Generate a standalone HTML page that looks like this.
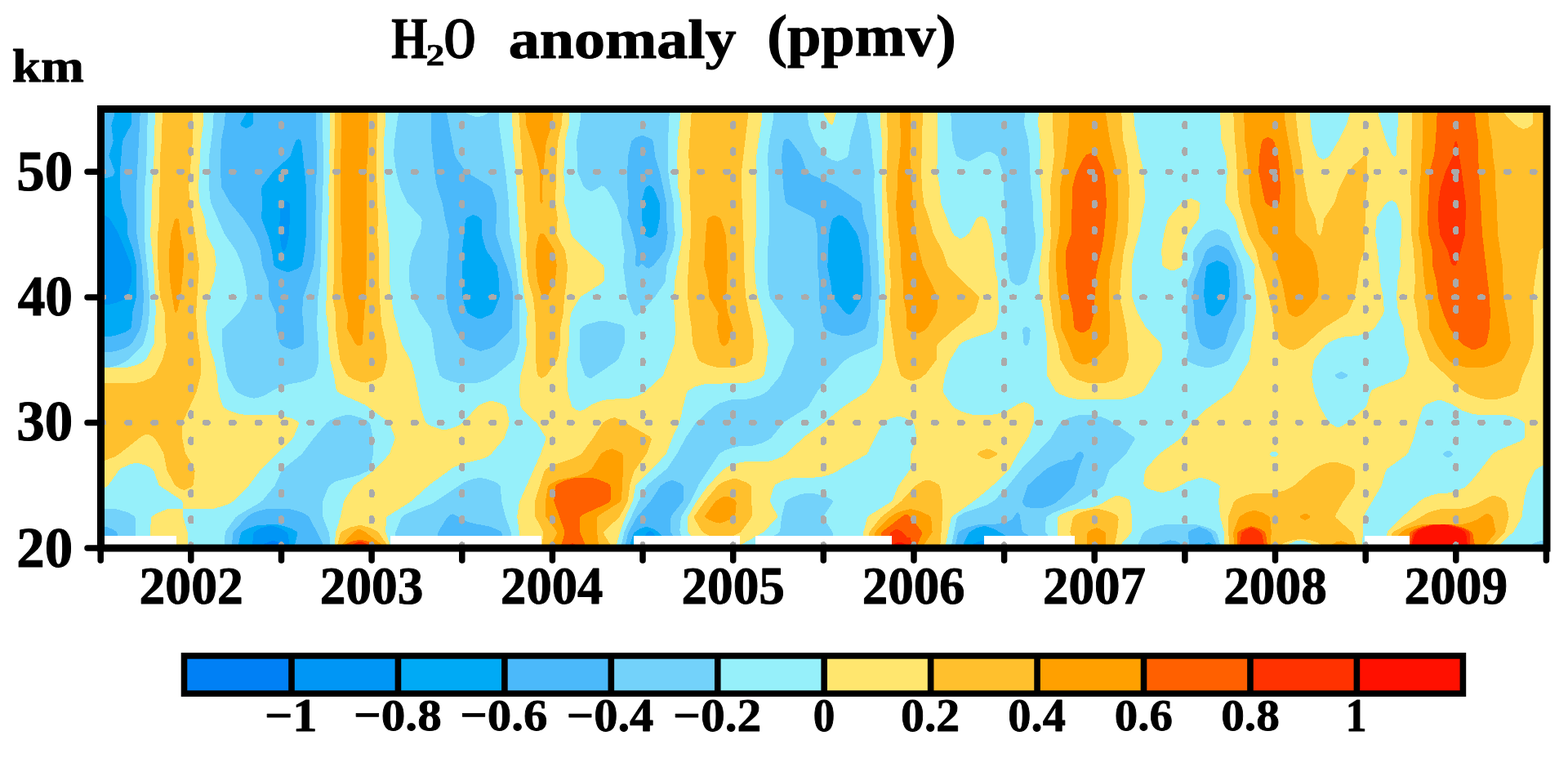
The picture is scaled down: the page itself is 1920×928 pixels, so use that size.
<!DOCTYPE html>
<html><head><meta charset="utf-8"><title>H2O anomaly (ppmv)</title>
<style>
html,body{margin:0;padding:0;background:#fff;overflow:hidden}
svg{display:block}
text{font-family:'Liberation Serif', serif;font-weight:bold;fill:#000}
.t{font-size:100px;stroke:#000;stroke-width:1.5px;stroke-linejoin:round}
</style></head><body>
<svg width="1920" height="928" viewBox="0 0 1920 928">
<rect width="1920" height="928" fill="#fff"/>
<clipPath id="pc"><rect x="128" y="138" width="1762" height="529"/></clipPath>
<g clip-path="url(#pc)" shape-rendering="crispEdges">
<rect x="128" y="138" width="1762" height="529" fill="#0080F5"/>
<path fill="#0096F5" fill-rule="evenodd" d="M1893.5,671.0 825.5,671.0 797.9,670.5 797.9,666.5 796.5,665.8 794.1,666.5 794.1,670.5 773.5,670.9 373.5,671.0 347.1,670.5 347.1,666.5 345.8,665.5 335.5,661.9 330.5,662.8 324.2,665.5 322.9,666.5 322.9,670.5 124.5,671.0 124.0,134.5 1893.5,134.0 1893.5,671.0Z"/>
<path fill="#00AAF5" fill-rule="evenodd" d="M1893.5,671.0 1238.5,670.9 1222.1,670.5 1222.1,666.5 1220.8,665.5 1214.5,662.8 1206.5,661.0 1198.5,662.8 1192.2,665.5 1190.9,666.5 1190.9,670.5 1185.5,670.7 817.5,670.8 806.5,670.5 806.2,665.5 800.7,653.5 798.5,651.0 795.5,650.0 792.8,651.5 790.1,655.5 784.9,665.5 784.6,670.5 367.5,670.8 354.8,670.5 354.1,662.5 352.5,654.5 351.1,651.5 343.5,646.9 331.5,643.3 319.5,646.5 311.0,651.5 309.9,654.5 309.1,670.5 124.5,671.0 124.0,389.5 124.5,373.5 132.5,373.1 142.5,370.6 150.5,367.3 155.6,363.5 160.7,345.5 161.0,329.5 160.2,323.5 144.5,284.5 134.2,267.5 129.5,264.5 124.5,264.2 124.0,134.5 1893.5,134.0 1893.5,671.0ZM348.8,306.5 350.5,303.5 353.8,287.5 355.0,266.5 354.6,249.5 353.1,247.5 349.5,245.7 344.9,247.5 343.1,250.5 342.1,285.5 344.9,304.5 346.5,306.7 348.8,306.5Z"/>
<path fill="#4BB9FA" fill-rule="evenodd" d="M131.5,217.6 124.5,218.0 124.5,134.2 140.6,134.5 140.4,139.5 136.3,153.5 138.7,172.5 133.4,190.5 140.6,210.5 139.5,213.5 137.5,215.5 131.5,217.6ZM1893.5,671.0 1498.5,670.8 1485.1,670.5 1485.1,666.5 1480.5,664.2 1477.5,664.8 1474.9,666.5 1474.9,670.5 1470.5,670.6 1250.1,670.5 1250.1,666.5 1247.3,664.5 1217.5,647.8 1205.5,643.8 1195.5,646.5 1186.8,651.5 1179.8,665.5 1179.5,670.5 1176.5,670.6 820.0,670.5 819.4,665.5 807.5,652.5 800.5,647.8 791.5,644.8 782.5,647.8 776.1,652.5 771.6,665.5 771.4,670.5 373.5,670.8 361.3,670.5 361.4,665.5 364.4,653.5 363.8,651.5 362.5,650.2 356.5,646.9 348.5,644.2 340.5,642.4 333.5,642.2 316.5,642.9 305.5,646.1 297.5,650.2 295.2,652.5 294.5,654.5 292.3,665.5 292.2,670.5 124.5,671.0 124.0,427.5 124.5,411.9 135.5,411.8 143.5,410.2 153.9,406.5 160.0,402.5 161.1,399.5 162.2,382.5 167.0,362.5 166.8,324.5 163.0,306.5 156.3,287.5 155.9,268.5 149.1,248.5 147.0,228.5 147.1,208.5 149.9,173.5 150.9,170.5 160.7,152.5 161.0,134.5 301.4,134.5 301.1,139.5 294.1,151.5 295.8,154.5 301.5,157.1 307.3,154.5 309.8,151.5 310.0,134.5 326.5,134.1 1893.5,134.0 1893.5,671.0ZM355.5,332.5 365.3,328.5 369.9,324.5 372.9,306.5 374.9,287.5 374.9,228.5 369.2,174.5 367.8,171.5 365.5,170.4 363.1,171.5 361.6,173.5 355.3,191.5 334.1,210.5 321.5,227.5 320.1,231.5 320.9,248.5 320.2,267.5 328.9,290.5 332.9,306.5 335.2,324.5 338.0,327.5 344.5,330.8 351.5,333.0 355.5,332.5ZM798.5,290.5 802.9,287.5 804.5,284.5 807.9,267.5 808.0,250.5 807.1,246.5 800.2,230.5 797.5,227.9 794.5,227.0 791.6,228.5 790.0,230.5 785.4,247.5 785.9,266.5 788.4,286.5 790.2,288.5 794.5,290.9 798.5,290.5ZM591.3,389.5 601.8,384.5 603.9,382.5 605.5,379.5 611.8,363.5 610.9,343.5 608.7,325.5 596.0,307.5 594.3,303.5 590.2,287.5 589.5,268.5 585.5,265.0 579.5,262.9 572.1,266.5 570.4,268.5 569.8,270.5 566.1,306.5 566.1,363.5 571.2,380.5 573.0,383.5 577.5,386.5 584.5,389.5 587.5,390.2 591.3,389.5ZM1041.8,384.5 1045.6,380.5 1054.3,366.5 1056.0,362.5 1057.0,327.5 1055.2,308.5 1050.6,289.5 1048.9,285.5 1037.2,268.5 1031.6,264.5 1027.5,263.4 1020.5,267.1 1018.3,271.5 1014.9,288.5 1013.3,326.5 1016.9,344.5 1019.3,363.5 1034.7,382.5 1038.5,385.1 1041.8,384.5ZM1488.5,386.5 1492.5,384.0 1494.8,381.5 1504.5,364.5 1505.9,346.5 1504.3,328.5 1503.3,325.5 1497.5,321.5 1490.5,319.1 1481.6,322.5 1477.1,326.5 1475.0,344.5 1474.1,361.5 1477.3,382.5 1479.2,384.5 1483.5,387.0 1485.5,387.4 1488.5,386.5Z"/>
<path fill="#73D2FA" fill-rule="evenodd" d="M1893.5,671.0 1489.5,670.5 1489.2,665.5 1483.1,652.5 1477.5,648.3 1468.5,645.1 1459.2,648.5 1456.1,650.5 1454.6,652.5 1456.8,670.5 1445.3,670.5 1445.3,666.5 1443.5,664.1 1439.5,662.3 1432.5,661.3 1420.2,665.5 1418.9,666.5 1418.9,670.5 1277.1,670.5 1277.1,666.5 1276.0,665.5 1252.7,651.5 1251.5,648.5 1248.6,630.5 1246.5,627.3 1244.5,628.4 1239.8,635.5 1234.5,638.4 1217.5,642.0 1196.5,642.5 1185.5,645.4 1177.5,648.9 1173.9,651.5 1172.8,653.5 1170.3,665.5 1170.2,670.5 831.2,670.5 830.8,665.5 821.3,651.5 821.1,634.5 822.8,630.5 836.5,613.5 836.9,596.5 836.4,594.5 833.5,591.9 823.5,587.7 815.5,590.3 809.1,594.5 796.8,613.5 779.6,633.5 769.0,652.5 766.3,665.5 766.2,670.5 615.0,670.5 614.9,653.5 614.0,651.5 611.5,649.5 598.5,644.2 582.6,641.5 572.5,638.7 554.5,629.2 551.1,630.5 547.6,633.5 536.9,650.5 536.0,654.5 536.0,670.5 395.4,670.5 395.4,666.5 394.7,664.5 378.4,632.5 372.5,628.6 364.5,625.6 355.5,623.3 347.5,623.0 324.5,623.5 312.5,626.9 303.6,631.5 285.6,651.5 284.8,654.5 284.1,670.5 144.9,670.5 144.1,654.5 143.0,651.5 139.5,648.9 133.5,646.1 128.5,644.6 124.5,644.6 124.2,435.5 124.5,431.0 135.5,431.0 141.5,429.9 152.1,426.5 159.4,422.5 162.1,419.5 170.7,404.5 172.6,398.5 175.0,382.5 175.9,361.5 173.9,325.5 167.0,283.5 167.1,228.5 171.9,134.5 275.9,134.5 275.1,151.5 271.1,171.5 270.1,188.5 270.0,210.5 271.3,229.5 282.0,248.5 298.4,268.5 312.0,289.5 318.9,306.5 321.2,325.5 328.7,344.5 329.2,363.5 337.8,383.5 338.2,402.5 342.6,419.5 344.5,422.3 347.5,424.4 357.5,428.1 367.3,424.5 370.3,422.5 371.7,420.5 371.9,402.5 370.1,382.5 371.1,364.5 383.6,326.5 385.7,309.5 386.0,268.5 386.9,248.5 386.1,229.5 388.0,208.5 387.0,134.5 528.0,134.5 528.0,171.5 532.2,211.5 534.9,228.5 541.8,248.5 545.0,267.5 549.8,287.5 546.0,345.5 546.1,363.5 548.8,381.5 556.3,402.5 567.6,420.5 571.0,423.5 575.5,425.9 588.5,429.8 598.5,427.1 607.5,422.5 626.3,402.5 627.0,399.5 627.9,364.5 627.0,345.5 607.3,287.5 607.9,249.5 602.6,231.5 599.0,227.5 570.6,210.5 558.0,192.5 556.6,188.5 547.5,140.5 547.2,134.5 1893.5,134.0 1893.5,671.0ZM794.5,328.5 800.6,324.5 814.5,306.5 817.8,285.5 816.0,267.5 815.7,247.5 808.2,211.5 802.2,191.5 800.0,173.5 798.9,171.5 796.4,169.5 786.5,165.6 778.4,168.5 773.3,172.5 769.4,189.5 768.1,209.5 768.0,227.5 769.9,248.5 768.2,267.5 775.0,287.5 778.6,304.5 778.4,324.5 779.5,326.0 781.5,326.5 785.5,323.4 786.5,323.6 791.1,327.5 794.5,328.5ZM1036.6,411.5 1050.5,407.5 1059.2,402.5 1061.2,398.5 1066.0,381.5 1067.0,344.5 1064.1,306.5 1063.9,288.5 1057.1,267.5 1055.1,250.5 1054.1,248.5 1051.8,246.5 1023.5,227.1 995.0,214.5 989.9,211.5 987.5,208.5 980.8,189.5 968.1,172.5 965.5,170.3 962.5,169.9 960.1,171.5 959.0,173.5 957.1,191.5 959.0,228.5 961.7,246.5 962.6,248.5 965.5,251.0 993.5,265.0 997.0,267.5 998.1,269.5 1000.9,287.5 1001.0,324.5 1002.9,344.5 1003.2,365.5 1005.1,383.5 1008.7,400.5 1011.5,403.9 1018.5,407.5 1030.5,411.1 1036.6,411.5ZM1488.5,427.5 1496.9,423.5 1500.4,419.5 1505.0,402.5 1513.6,383.5 1515.0,363.5 1514.9,343.5 1513.5,324.5 1504.7,306.5 1498.9,302.5 1491.5,299.8 1487.8,300.5 1481.5,303.4 1478.4,305.5 1476.5,307.9 1462.3,344.5 1461.1,362.5 1462.0,382.5 1463.8,400.5 1469.5,419.5 1471.7,422.5 1478.9,426.5 1484.5,428.2 1488.5,427.5ZM1277.8,621.5 1287.0,618.5 1294.4,614.5 1315.3,594.5 1321.9,571.5 1327.0,558.5 1327.2,556.5 1325.5,554.3 1322.5,553.0 1320.7,553.5 1318.0,555.5 1315.1,560.5 1312.5,562.5 1299.5,565.0 1283.5,572.7 1277.5,577.2 1258.3,594.5 1252.4,612.5 1252.5,615.5 1253.7,618.5 1256.5,620.6 1261.5,621.7 1272.5,622.3 1277.8,621.5Z"/>
<path fill="#96F0FA" fill-rule="evenodd" d="M760.5,670.5 626.0,670.5 625.7,651.5 619.0,632.5 614.6,615.5 612.5,594.7 609.5,591.9 603.5,588.9 595.5,586.3 587.5,584.8 577.5,586.9 568.0,590.5 529.2,616.5 500.5,627.7 493.7,631.5 491.3,634.5 484.3,651.5 484.0,670.5 404.9,670.5 403.0,652.5 395.8,634.5 395.0,630.5 395.2,613.5 402.1,596.5 405.6,592.5 412.5,588.9 439.5,581.7 450.7,576.5 453.5,572.5 456.8,556.5 456.9,536.5 453.6,520.5 452.4,517.5 448.5,514.5 441.8,511.5 432.5,508.8 426.5,507.9 420.5,508.8 411.2,511.5 404.5,514.5 400.2,517.5 384.2,536.5 370.0,555.5 345.1,575.5 336.6,594.5 321.7,612.5 317.5,615.8 292.1,630.5 288.5,633.5 275.6,651.5 275.0,670.5 166.0,670.5 166.0,635.5 165.1,632.5 157.5,627.7 145.5,624.0 139.5,623.0 124.5,623.0 124.0,458.5 124.5,450.2 133.5,449.9 144.5,447.0 153.5,443.0 159.1,438.5 175.5,421.5 180.9,402.5 182.9,383.5 183.0,364.5 182.0,344.5 178.0,306.5 177.1,288.5 177.0,233.5 179.0,209.5 181.0,134.5 261.9,134.5 260.7,155.5 256.0,192.5 256.0,228.5 257.9,247.5 274.9,286.5 288.9,306.5 296.2,323.5 300.9,344.5 302.7,361.5 302.1,365.5 293.1,382.5 272.5,402.5 272.3,423.5 278.1,459.5 287.6,476.5 290.5,480.0 295.5,483.0 302.5,485.8 310.5,487.7 316.5,486.7 324.5,483.9 337.5,476.1 344.5,473.0 354.5,470.2 369.4,467.5 381.5,462.8 384.7,460.5 386.2,458.5 390.5,442.5 390.1,423.5 388.1,401.5 389.1,364.5 392.0,343.5 396.0,210.5 395.0,134.5 487.9,134.5 487.7,140.5 483.1,171.5 482.1,188.5 485.1,210.5 490.1,229.5 498.5,247.5 514.7,265.5 516.7,269.5 514.9,286.5 505.1,306.5 501.1,325.5 501.1,344.5 504.8,362.5 513.8,382.5 527.8,402.5 530.8,420.5 533.1,440.5 538.4,459.5 543.5,463.3 551.5,466.6 561.5,469.1 569.5,469.4 580.5,469.4 587.5,468.0 597.5,464.7 605.1,460.5 629.6,440.5 635.8,421.5 635.8,362.5 631.5,322.5 629.0,306.5 624.1,286.5 623.0,248.5 619.0,210.5 611.2,153.5 611.0,134.5 711.9,134.5 710.2,151.5 706.1,172.5 707.3,210.5 714.2,227.5 716.6,230.5 721.5,233.4 724.5,234.0 729.5,231.9 736.5,227.4 739.5,227.9 743.2,231.5 754.6,250.5 760.9,268.5 761.2,287.5 764.8,306.5 763.2,326.5 768.1,363.5 775.3,383.5 777.5,386.1 779.5,386.7 782.5,384.5 801.3,364.5 814.3,345.5 815.1,342.5 816.2,325.5 823.4,307.5 824.6,302.5 826.8,286.5 825.0,267.5 824.9,249.5 820.9,228.5 818.0,208.5 818.0,171.5 819.9,134.5 947.9,134.5 946.4,149.5 942.1,171.5 940.1,190.5 942.0,249.5 942.0,281.5 940.0,307.5 940.1,345.5 942.7,364.5 955.6,382.5 971.6,402.5 972.0,418.5 971.4,422.5 963.1,440.5 955.9,459.5 939.2,479.5 931.5,483.9 920.5,487.4 914.5,488.6 896.5,489.0 881.2,493.5 872.8,498.5 852.2,517.5 839.8,535.5 829.1,555.5 817.0,573.5 794.2,592.5 790.8,596.5 781.5,614.5 764.7,650.5 761.5,664.5 761.2,670.5 760.5,670.5ZM587.5,142.6 582.5,143.1 573.5,140.1 571.0,138.5 571.0,134.5 596.9,134.5 596.9,138.5 596.0,139.5 592.5,141.4 587.5,142.6ZM1025.5,197.6 1018.5,195.5 1011.8,191.5 997.6,172.5 990.1,152.5 988.1,134.5 1049.8,134.5 1049.7,139.5 1047.2,151.5 1041.0,172.5 1039.0,189.5 1037.9,191.5 1035.4,193.5 1025.5,197.6ZM1875.5,670.5 1493.7,670.5 1493.6,665.5 1490.7,654.5 1488.0,650.5 1482.5,647.4 1474.5,644.5 1466.3,642.5 1459.5,642.2 1425.5,642.3 1416.5,644.2 1408.5,646.9 1402.0,650.5 1399.3,653.5 1393.8,665.5 1393.5,670.5 1293.9,670.5 1293.9,666.5 1293.2,665.5 1279.6,651.5 1280.6,636.5 1281.8,632.5 1289.5,627.7 1318.2,616.5 1350.0,595.5 1352.4,592.5 1358.2,575.5 1379.0,555.5 1389.9,537.5 1387.9,534.5 1358.5,514.5 1348.5,510.4 1336.5,507.9 1323.5,507.9 1318.5,508.8 1307.5,512.1 1299.5,516.5 1296.8,519.5 1286.0,537.5 1251.4,573.5 1234.7,594.5 1217.5,612.8 1208.5,618.3 1182.5,626.9 1173.8,631.5 1172.1,633.5 1171.2,636.5 1165.5,664.5 1165.2,670.5 1020.0,670.5 1019.5,651.5 1009.0,635.5 1007.8,632.5 1019.4,615.5 1019.8,613.5 1017.5,611.1 1011.5,608.1 995.5,603.9 986.5,604.0 979.5,605.5 970.5,608.5 963.5,612.5 961.5,615.5 957.3,631.5 955.3,648.5 954.3,651.5 951.7,653.5 928.2,665.5 926.9,666.5 926.9,670.5 841.3,670.5 840.9,665.5 833.2,653.5 832.3,649.5 833.8,634.5 834.8,631.5 845.9,613.5 855.5,593.5 880.8,555.5 887.3,551.5 896.5,548.2 904.5,546.4 922.5,545.5 933.5,542.3 941.5,538.3 944.8,535.5 960.4,516.5 989.3,498.5 1001.5,478.5 1013.9,462.5 1034.5,441.3 1041.5,436.7 1068.5,424.9 1072.3,422.5 1073.8,420.5 1075.9,402.5 1075.1,383.5 1076.9,363.5 1075.9,323.5 1073.1,287.5 1072.9,267.5 1070.1,231.5 1070.8,209.5 1068.1,191.5 1066.8,170.5 1061.3,139.5 1061.2,134.5 1164.1,134.5 1166.1,171.5 1170.4,188.5 1172.0,191.5 1178.5,195.5 1185.5,197.6 1192.5,195.1 1203.5,188.2 1209.5,185.6 1211.5,185.6 1215.5,187.1 1221.5,191.3 1228.0,211.5 1230.9,266.5 1230.2,288.5 1233.9,324.5 1236.4,340.5 1237.0,343.5 1238.5,345.5 1243.5,348.6 1247.5,349.6 1253.5,347.0 1257.1,343.5 1268.0,304.5 1267.9,287.5 1265.1,267.5 1264.9,248.5 1261.9,227.5 1260.8,189.5 1258.8,171.5 1254.2,152.5 1254.9,134.5 1893.5,134.0 1893.9,654.5 1893.5,661.3 1887.5,661.7 1878.5,664.8 1875.9,666.5 1875.5,670.5ZM1483.6,449.5 1498.7,444.5 1503.6,441.5 1506.0,438.5 1523.6,402.5 1525.9,366.5 1523.9,344.5 1521.3,327.5 1519.8,322.5 1504.8,287.5 1499.3,283.5 1490.5,280.3 1483.5,282.2 1476.0,286.5 1461.8,305.5 1461.2,308.5 1461.7,325.5 1454.2,344.5 1452.0,364.5 1452.1,401.5 1455.8,421.5 1452.7,437.5 1452.8,440.5 1457.5,444.1 1467.5,448.0 1476.5,450.1 1483.6,449.5ZM724.9,462.5 754.3,442.5 757.3,439.5 764.9,420.5 764.7,402.5 763.5,400.1 760.5,397.7 742.5,393.2 735.5,392.7 719.5,397.0 713.5,399.9 710.6,402.5 710.0,406.5 710.3,441.5 716.3,459.5 721.5,463.1 724.9,462.5ZM1258.0,422.5 1260.1,419.5 1261.7,404.5 1260.5,401.5 1256.5,399.8 1253.5,401.5 1252.3,403.5 1252.9,418.5 1254.5,422.1 1256.5,423.0 1258.0,422.5ZM1643.6,464.5 1649.3,461.5 1650.3,459.5 1649.6,458.5 1645.5,455.9 1642.5,455.0 1639.5,455.9 1635.4,458.5 1634.7,459.5 1635.7,461.5 1640.5,464.2 1643.6,464.5ZM1774.9,559.5 1778.3,557.5 1779.3,555.5 1775.5,552.4 1771.5,552.0 1768.6,553.5 1766.7,555.5 1767.7,557.5 1770.5,559.2 1772.5,559.9 1774.9,559.5Z"/>
<path fill="#FFE66E" fill-rule="evenodd" d="M262.5,622.7 224.5,623.0 223.9,615.5 222.4,612.5 194.5,594.0 188.7,577.5 186.9,574.5 179.5,570.1 168.5,566.7 165.5,566.7 158.9,568.5 148.3,573.5 145.1,576.5 132.3,594.5 128.5,596.8 124.5,596.8 124.0,467.5 124.5,450.2 154.5,450.1 163.5,448.0 171.5,445.1 176.2,442.5 179.5,439.5 188.9,420.5 189.1,402.5 190.9,381.5 188.0,325.5 184.1,286.5 185.9,249.5 186.1,229.5 188.0,209.5 190.0,134.5 249.0,134.5 248.9,152.5 246.0,172.5 243.1,227.5 243.9,246.5 250.7,267.5 253.4,287.5 262.8,306.5 264.8,324.5 261.9,344.5 255.5,362.5 254.3,368.5 252.1,383.5 252.9,400.5 256.1,421.5 261.9,440.5 265.7,458.5 267.3,479.5 272.6,496.5 275.0,499.5 279.5,502.2 293.5,506.9 299.5,507.8 343.5,508.2 359.5,513.0 364.5,515.8 366.2,518.5 360.3,533.5 357.9,537.5 319.7,574.5 304.6,594.5 288.9,610.5 284.4,614.5 278.5,617.8 262.5,622.7ZM477.5,670.5 409.1,670.5 411.2,651.5 416.7,633.5 420.6,615.5 422.2,611.5 433.1,594.5 458.5,575.3 475.4,557.5 477.8,553.5 483.6,536.5 477.7,519.5 474.3,515.5 447.5,495.9 418.5,483.0 413.1,479.5 411.6,476.5 408.9,459.5 404.3,441.5 402.1,421.5 401.9,402.5 399.1,382.5 402.9,249.5 402.1,229.5 403.9,210.5 403.1,191.5 404.0,171.5 404.0,134.5 472.0,134.5 471.9,152.5 470.0,172.5 470.0,210.5 472.0,248.5 476.1,288.5 477.0,306.5 477.1,344.5 479.0,363.5 482.2,383.5 491.2,418.5 492.7,422.5 503.5,442.5 507.9,459.5 514.9,497.5 520.9,516.5 522.7,518.5 527.7,521.5 540.5,525.8 545.5,526.2 553.5,524.2 561.5,520.9 566.7,517.5 582.9,499.5 586.5,496.5 593.5,492.9 601.5,490.5 613.5,493.9 619.1,497.5 620.4,500.5 623.6,515.5 623.3,519.5 617.8,536.5 600.9,556.5 596.1,559.5 589.5,562.2 566.5,567.7 554.5,572.7 525.5,593.9 502.5,614.5 473.8,632.5 472.9,635.5 472.2,651.5 477.3,665.5 477.5,670.5ZM754.5,670.5 636.0,670.5 635.9,651.5 633.2,632.5 635.9,614.5 661.6,556.5 668.4,537.5 667.6,534.5 657.6,518.5 639.0,500.5 637.0,496.5 636.1,479.5 636.9,461.5 642.0,440.5 644.8,422.5 644.1,402.5 645.8,383.5 641.9,362.5 638.0,325.5 635.0,268.5 633.1,248.5 632.1,211.5 627.9,169.5 627.0,134.5 697.0,134.5 696.9,152.5 692.1,172.5 691.9,191.5 690.1,210.5 691.9,229.5 691.2,248.5 696.8,267.5 698.9,285.5 701.4,289.5 716.3,304.5 738.6,324.5 740.0,328.5 740.0,341.5 739.3,344.5 737.2,346.5 710.8,363.5 701.0,379.5 698.9,384.5 697.1,402.5 696.9,421.5 694.0,441.5 694.9,477.5 700.1,497.5 705.1,501.5 710.5,503.2 715.5,501.2 726.0,494.5 735.5,490.9 745.5,488.7 768.5,488.1 780.5,484.7 788.9,480.5 811.8,459.5 825.2,423.5 826.1,419.5 826.9,402.5 825.1,364.5 826.0,345.5 835.9,286.5 834.0,249.5 830.0,228.5 829.1,191.5 830.1,171.5 833.9,134.5 933.9,134.5 932.4,149.5 926.1,191.5 926.0,285.5 924.1,306.5 924.0,323.5 925.0,344.5 927.8,362.5 933.3,384.5 940.8,421.5 939.0,440.5 936.0,458.5 933.5,461.5 929.5,463.8 914.5,468.7 908.5,469.4 865.5,469.6 851.5,473.4 842.2,478.5 840.5,481.5 831.9,517.5 823.1,536.5 815.9,555.5 799.4,573.5 778.4,594.5 774.8,613.5 766.1,632.5 759.8,649.5 755.4,665.5 755.3,670.5 754.5,670.5ZM1018.5,152.8 1015.5,151.3 1010.4,142.5 1008.6,138.5 1008.6,134.5 1023.7,134.5 1023.5,139.5 1021.4,147.5 1020.0,151.5 1018.5,152.8ZM1157.5,670.5 1057.0,670.5 1057.2,651.5 1062.0,633.5 1065.1,630.5 1092.4,613.5 1100.1,594.5 1114.7,574.5 1115.3,555.5 1122.6,536.5 1119.6,520.5 1118.4,517.5 1114.5,514.5 1107.5,511.4 1100.5,509.5 1089.6,512.5 1081.4,517.5 1071.6,535.5 1063.1,553.5 1060.8,556.5 1031.8,572.5 1023.5,577.9 1014.5,581.7 1003.5,584.4 970.5,585.1 957.5,588.9 949.3,593.5 947.0,597.5 942.5,613.5 951.7,630.5 951.8,633.5 935.0,651.5 907.9,666.5 907.9,670.5 858.7,670.5 858.7,666.5 858.0,665.5 844.1,653.5 842.2,650.5 842.4,632.5 851.2,616.5 866.9,594.5 885.9,574.5 894.5,569.7 906.5,566.1 911.5,565.4 939.5,565.1 950.5,562.2 959.5,558.2 964.3,554.5 983.6,535.5 1008.8,517.5 1033.0,497.5 1061.1,479.5 1074.9,459.5 1080.8,440.5 1081.1,421.5 1084.0,381.5 1083.9,343.5 1080.0,267.5 1080.0,173.5 1078.1,152.5 1078.0,134.5 1148.0,134.5 1148.0,189.5 1147.2,210.5 1150.9,229.5 1152.2,248.5 1166.1,284.5 1169.2,288.5 1174.5,291.5 1177.5,291.8 1181.5,290.0 1186.6,285.5 1195.0,268.5 1198.5,265.6 1201.5,264.5 1205.9,266.5 1208.4,269.5 1214.0,287.5 1217.0,306.5 1218.1,325.5 1221.9,345.5 1222.9,382.5 1220.2,400.5 1218.0,403.5 1213.5,406.2 1183.7,416.5 1177.9,419.5 1174.5,422.5 1162.4,442.5 1156.9,460.5 1154.4,476.5 1155.1,480.5 1165.9,496.5 1168.9,499.5 1177.5,503.9 1190.5,507.5 1214.5,507.8 1221.5,506.6 1233.5,502.7 1246.5,494.8 1253.5,492.2 1257.8,493.5 1263.4,496.5 1265.4,498.5 1265.9,500.5 1265.8,517.5 1259.8,534.5 1245.7,556.5 1236.7,573.5 1216.7,593.5 1195.3,611.5 1165.7,632.5 1164.4,635.5 1160.7,653.5 1158.3,665.5 1158.2,670.5 1157.5,670.5ZM1374.5,488.6 1318.5,488.6 1306.5,486.1 1297.5,482.5 1292.5,479.0 1282.5,460.5 1281.8,419.5 1278.1,384.5 1274.0,363.5 1272.1,344.5 1273.2,323.5 1277.9,286.5 1276.0,249.5 1273.1,212.5 1274.0,173.5 1271.1,152.5 1271.9,134.5 1388.1,134.5 1389.2,153.5 1395.9,190.5 1400.9,210.5 1402.0,246.5 1395.0,286.5 1389.0,306.5 1386.3,323.5 1386.2,363.5 1392.9,382.5 1403.0,400.5 1422.4,421.5 1423.0,438.5 1422.4,441.5 1420.2,445.5 1400.1,478.5 1396.3,481.5 1390.1,484.5 1374.5,488.6ZM1836.5,670.5 1698.0,670.5 1698.0,654.5 1699.5,650.5 1717.2,632.5 1738.0,613.5 1744.4,609.5 1752.5,606.4 1761.5,604.1 1771.5,603.7 1777.5,602.6 1786.5,599.9 1793.6,596.5 1798.4,592.5 1810.1,578.5 1827.7,555.5 1834.5,551.4 1861.5,540.1 1865.4,537.5 1866.8,535.5 1866.7,518.5 1864.5,515.8 1859.5,513.0 1851.5,510.1 1842.5,508.0 1809.5,507.8 1802.5,506.6 1791.5,503.1 1776.5,494.3 1764.5,490.1 1760.5,490.1 1752.5,492.6 1746.2,495.5 1742.4,498.5 1736.3,516.5 1731.0,536.5 1724.3,554.5 1721.6,557.5 1699.2,573.5 1696.8,576.5 1691.7,594.5 1669.4,632.5 1668.1,670.5 1606.1,670.5 1606.1,666.5 1604.8,665.5 1599.5,663.2 1592.5,661.4 1586.5,662.5 1579.2,665.5 1577.9,666.5 1577.9,670.5 1499.0,670.5 1498.8,651.5 1494.1,632.5 1492.2,614.5 1493.6,595.5 1491.4,592.5 1480.5,587.5 1472.5,585.4 1468.5,585.2 1453.5,589.8 1436.5,599.5 1423.5,603.1 1417.5,602.1 1406.4,598.5 1402.6,596.5 1400.7,594.5 1400.3,591.5 1401.8,577.5 1404.3,572.5 1419.6,555.5 1445.8,536.5 1459.2,517.5 1477.5,500.5 1508.0,478.5 1528.4,443.5 1530.0,439.5 1532.2,420.5 1537.9,382.5 1537.9,363.5 1535.2,344.5 1536.7,326.5 1535.7,323.5 1525.2,306.5 1518.0,289.5 1512.5,267.5 1500.4,248.5 1501.0,230.5 1502.9,209.5 1501.0,191.5 1495.0,170.5 1494.0,134.5 1603.1,134.5 1607.5,173.5 1613.2,190.5 1616.6,193.5 1620.5,195.0 1624.4,193.5 1628.1,190.5 1639.7,170.5 1648.9,152.5 1652.5,139.5 1652.7,134.5 1687.4,134.5 1687.6,139.5 1697.3,172.5 1704.7,189.5 1707.5,191.7 1709.4,190.5 1709.9,188.5 1710.1,171.5 1711.9,152.5 1712.0,134.5 1894.0,134.5 1893.5,570.0 1889.5,570.0 1885.6,571.5 1881.0,574.5 1878.7,577.5 1869.8,595.5 1866.2,612.5 1863.4,633.5 1853.7,650.5 1837.9,665.5 1837.2,666.5 1837.2,670.5 1836.5,670.5ZM1438.5,330.7 1435.5,331.5 1431.9,330.5 1426.0,327.5 1423.2,324.5 1422.1,306.5 1425.4,285.5 1429.6,269.5 1432.0,265.5 1446.5,248.5 1454.5,243.8 1459.5,243.1 1466.7,246.5 1469.5,249.5 1468.0,266.5 1466.1,270.5 1455.2,285.5 1453.3,289.5 1448.2,306.5 1447.7,324.5 1445.0,327.5 1438.5,330.7ZM1641.0,522.5 1649.8,517.5 1672.2,498.5 1673.7,495.5 1677.8,480.5 1680.3,477.5 1687.5,473.8 1712.0,464.5 1718.7,460.5 1720.7,457.5 1725.4,442.5 1725.3,438.5 1720.2,421.5 1718.9,402.5 1712.0,382.5 1710.1,364.5 1711.1,344.5 1714.8,325.5 1714.1,306.5 1716.0,286.5 1715.9,268.5 1710.5,250.5 1708.1,247.5 1704.5,245.4 1701.5,245.8 1696.7,249.5 1686.5,265.5 1684.9,270.5 1684.2,287.5 1688.6,321.5 1690.1,344.5 1694.0,364.5 1694.8,380.5 1694.0,384.5 1683.3,401.5 1677.5,405.7 1670.5,408.7 1661.5,411.1 1648.5,412.0 1640.5,413.8 1632.7,416.5 1626.5,419.8 1622.5,423.4 1612.2,436.5 1608.8,442.5 1606.3,461.5 1609.3,479.5 1615.4,496.5 1627.5,517.5 1636.5,522.7 1641.0,522.5ZM1562.8,558.5 1565.1,556.5 1565.3,555.5 1561.5,552.5 1558.5,552.5 1554.7,555.5 1555.7,557.5 1558.5,559.1 1560.5,559.4 1562.8,558.5ZM1372.5,670.5 1295.0,670.5 1295.3,633.5 1296.8,631.5 1299.8,629.5 1309.7,625.5 1319.5,623.2 1331.5,622.5 1343.5,619.1 1349.5,616.3 1359.5,610.0 1366.5,607.0 1370.5,606.8 1379.5,610.0 1382.9,612.5 1384.2,615.5 1385.9,632.5 1385.9,650.5 1384.3,653.5 1373.6,665.5 1372.5,670.5ZM229.5,670.5 184.0,670.5 184.1,649.5 184.9,635.5 185.8,632.5 191.5,628.6 204.5,623.3 223.5,623.0 224.4,633.5 229.9,652.5 229.5,670.5Z"/>
<path fill="#FFC02D" fill-rule="evenodd" d="M226.5,599.7 223.5,599.5 219.2,597.5 215.5,595.1 213.2,592.5 204.4,575.5 200.2,554.5 190.3,537.5 186.8,534.5 182.5,532.2 178.5,531.9 172.5,534.9 146.4,555.5 140.1,559.5 128.5,563.6 124.5,563.6 124.3,561.5 124.5,469.4 164.5,469.3 175.7,466.5 185.0,462.5 189.6,458.5 198.5,441.5 203.7,422.5 202.1,402.5 201.9,383.5 196.1,363.5 193.0,323.5 193.0,288.5 195.0,267.5 196.0,191.5 198.0,171.5 198.9,134.5 236.0,134.5 236.0,171.5 231.1,230.5 233.0,248.5 238.9,286.5 243.9,325.5 240.1,383.5 241.2,404.5 245.9,440.5 246.0,457.5 240.7,479.5 223.1,518.5 223.1,536.5 226.8,554.5 238.0,573.5 238.7,576.5 236.7,593.5 233.5,596.5 226.5,599.7ZM447.5,468.5 441.5,467.5 432.5,464.3 426.5,460.7 423.9,457.5 416.2,440.5 411.2,403.5 410.9,383.5 407.2,363.5 409.0,342.5 409.0,193.5 410.0,171.5 410.0,134.5 462.0,134.5 461.0,208.5 462.9,267.5 462.1,287.5 464.0,307.5 464.1,345.5 466.0,382.5 467.5,397.5 472.9,421.5 473.9,439.5 469.9,456.5 467.7,460.5 459.5,465.1 447.5,468.5ZM664.5,462.5 662.5,462.5 659.3,460.5 657.7,456.5 656.1,440.5 656.0,402.5 654.8,381.5 652.8,363.5 647.1,344.5 645.1,326.5 644.1,306.5 644.9,286.5 643.0,267.5 642.2,233.5 640.0,209.5 635.1,134.5 688.9,134.5 687.9,152.5 682.9,173.5 681.1,209.5 680.1,248.5 682.8,267.5 681.3,286.5 692.1,307.5 694.9,325.5 694.0,343.5 691.1,363.5 689.8,383.5 686.1,402.5 685.9,421.5 683.1,439.5 670.5,457.7 667.8,460.5 664.5,462.5ZM899.5,449.5 893.5,450.2 878.5,449.9 867.5,447.0 859.4,443.5 856.4,441.5 854.5,439.0 848.0,420.5 847.0,402.5 844.0,382.5 842.0,361.5 842.2,340.5 846.0,284.5 846.0,267.5 844.1,230.5 844.9,210.5 843.1,189.5 846.9,134.5 916.9,134.5 908.2,208.5 908.0,229.5 910.9,305.5 911.1,326.5 913.0,362.5 916.9,382.5 921.9,402.5 922.9,422.5 921.3,437.5 920.4,440.5 917.5,443.0 912.5,445.5 899.5,449.5ZM1117.5,466.5 1112.5,465.1 1106.5,462.2 1103.3,459.5 1102.0,456.5 1096.7,438.5 1089.2,383.5 1090.9,344.5 1089.1,325.5 1089.9,306.5 1088.0,286.5 1087.8,264.5 1085.1,229.5 1086.9,172.5 1086.0,134.5 1130.0,134.5 1128.1,210.5 1129.0,229.5 1131.4,249.5 1137.8,267.5 1143.0,286.5 1153.9,306.5 1160.4,325.5 1178.9,344.5 1197.4,361.5 1199.3,364.5 1195.1,379.5 1193.0,383.5 1168.5,402.7 1147.6,421.5 1146.6,440.5 1133.8,457.5 1127.5,462.8 1117.5,466.5ZM1354.5,468.7 1348.5,469.4 1332.5,468.9 1318.5,464.7 1310.1,459.5 1298.3,440.5 1295.9,421.5 1289.9,401.5 1285.1,364.5 1284.1,326.5 1286.9,287.5 1286.1,268.5 1286.9,248.5 1286.1,228.5 1290.9,190.5 1289.1,153.5 1289.0,134.5 1373.1,134.5 1375.0,170.5 1379.9,191.5 1382.9,230.5 1381.1,285.5 1375.9,307.5 1372.0,344.5 1371.1,363.5 1379.0,402.5 1381.0,421.5 1381.9,439.5 1377.0,456.5 1374.7,460.5 1366.5,465.1 1354.5,468.7ZM1583.5,428.6 1578.5,427.5 1570.5,423.8 1567.6,421.5 1565.6,417.5 1560.2,402.5 1557.8,382.5 1548.9,344.5 1542.1,325.5 1537.9,306.5 1527.9,286.5 1517.3,249.5 1515.1,229.5 1514.2,194.5 1512.0,171.5 1510.1,134.5 1586.1,134.5 1590.0,171.5 1594.0,191.5 1595.1,210.5 1601.7,246.5 1610.7,267.5 1612.8,284.5 1614.6,287.5 1616.5,287.5 1618.0,285.5 1621.5,267.5 1633.9,248.5 1640.1,229.5 1649.4,211.5 1658.5,201.2 1665.5,195.5 1669.5,190.5 1672.4,190.5 1673.8,192.5 1674.0,228.5 1672.0,249.5 1670.9,305.5 1664.1,325.5 1661.9,345.5 1658.3,365.5 1652.0,380.5 1649.5,383.9 1621.1,401.5 1597.5,422.5 1590.5,426.3 1583.5,428.6ZM1833.5,488.6 1817.5,488.6 1810.5,487.2 1798.5,483.0 1790.5,477.6 1750.3,440.5 1736.5,403.5 1734.8,382.5 1731.2,364.5 1732.9,342.5 1731.0,306.5 1728.0,285.5 1728.0,249.5 1727.1,229.5 1728.0,209.5 1729.0,134.5 1842.0,134.5 1842.6,139.5 1853.5,151.1 1859.3,155.5 1865.5,158.1 1871.5,156.2 1876.3,152.5 1877.0,149.5 1877.0,134.5 1893.8,134.5 1893.5,303.7 1888.5,304.1 1885.0,307.5 1879.1,344.5 1877.0,365.5 1878.0,403.5 1877.7,422.5 1872.9,440.5 1864.3,459.5 1858.7,478.5 1855.3,481.5 1849.5,484.3 1833.5,488.6ZM746.5,670.5 663.2,670.5 665.5,651.5 655.3,632.5 655.0,615.5 655.6,611.5 665.9,578.5 668.1,574.5 675.5,570.1 701.5,561.5 710.5,556.8 713.7,553.5 725.3,537.5 738.3,517.5 745.5,513.0 752.5,511.0 762.5,515.1 769.5,519.8 795.5,534.3 798.2,537.5 791.9,555.5 776.6,576.5 771.3,593.5 769.0,612.5 766.9,617.5 758.7,632.5 739.1,651.5 739.8,654.5 747.3,666.5 747.3,670.5 746.5,670.5ZM1211.5,561.8 1208.5,562.3 1203.5,560.7 1197.7,557.5 1196.7,555.5 1200.5,552.4 1208.5,549.4 1214.5,551.0 1220.7,554.5 1221.3,555.5 1220.3,557.5 1211.5,561.8ZM1660.5,670.5 1617.1,670.5 1617.1,666.5 1613.9,664.5 1604.5,661.4 1593.5,659.5 1582.5,661.4 1573.1,664.5 1569.9,666.5 1569.9,670.5 1505.9,670.5 1504.0,650.5 1504.5,631.5 1510.8,614.5 1513.5,611.7 1517.5,609.5 1525.1,606.5 1534.5,604.1 1559.5,603.7 1572.8,600.5 1583.5,595.3 1606.5,575.5 1613.5,571.1 1621.5,568.0 1630.5,565.7 1634.5,565.6 1640.5,566.9 1651.3,570.5 1657.8,574.5 1659.0,577.5 1658.9,592.5 1657.3,596.5 1644.4,614.5 1635.8,629.5 1635.0,632.5 1636.4,634.5 1656.9,652.5 1660.6,665.5 1660.5,670.5ZM886.5,658.6 882.5,658.9 874.5,657.4 866.5,654.9 861.6,652.5 858.1,648.5 850.7,635.5 849.8,632.5 863.0,613.5 879.0,594.5 883.1,591.5 889.6,588.5 897.5,586.1 901.5,586.1 913.5,590.3 919.4,594.5 920.0,597.5 920.8,631.5 918.9,635.5 906.8,651.5 899.0,655.5 886.5,658.6ZM1150.5,670.5 1064.0,670.5 1064.3,652.5 1065.8,649.5 1078.4,633.5 1103.7,613.5 1120.9,594.5 1129.5,589.3 1134.5,587.6 1137.5,587.6 1144.5,590.3 1149.5,593.4 1151.0,595.5 1151.8,599.5 1153.9,613.5 1154.0,631.5 1151.1,670.5 1150.5,670.5ZM1827.5,670.5 1703.5,670.6 1700.4,670.5 1700.4,666.5 1704.5,653.5 1707.0,650.5 1735.5,635.5 1747.5,628.2 1755.5,625.3 1764.5,623.2 1788.5,622.9 1796.5,621.3 1807.5,617.4 1821.5,609.0 1829.5,606.6 1837.6,609.5 1843.4,613.5 1844.6,616.5 1847.7,632.5 1842.7,651.5 1828.8,665.5 1828.1,666.5 1828.1,670.5 1827.5,670.5ZM1364.5,670.5 1315.6,670.5 1315.3,665.5 1310.3,651.5 1313.4,635.5 1314.8,632.5 1318.8,629.5 1325.5,626.6 1340.5,623.0 1346.5,623.3 1354.5,625.3 1361.5,627.7 1367.5,631.0 1369.1,632.5 1369.7,635.5 1368.0,651.5 1365.3,665.5 1365.2,670.5 1364.5,670.5ZM472.5,670.5 413.3,670.5 413.3,666.5 416.7,653.5 419.0,650.5 429.5,645.4 441.5,642.8 454.5,646.5 463.3,651.5 472.9,665.5 473.3,670.5 472.5,670.5Z"/>
<path fill="#FFA000" fill-rule="evenodd" d="M440.5,423.5 437.5,423.0 434.7,420.5 425.4,402.5 425.7,382.5 421.0,363.5 419.0,344.5 418.1,325.5 418.9,305.5 417.0,265.5 417.0,192.5 418.0,171.5 418.0,134.5 451.0,134.5 451.0,171.5 449.0,211.5 449.0,323.5 448.0,363.5 446.0,383.5 444.0,419.5 443.2,421.5 440.5,423.5ZM663.5,248.5 662.5,248.5 661.3,246.5 660.7,208.5 656.7,190.5 644.3,153.5 643.1,134.5 677.9,134.5 675.9,152.5 668.7,174.5 663.8,228.5 664.6,246.5 663.5,248.5ZM1125.5,407.5 1122.5,408.2 1119.4,407.5 1113.4,404.5 1110.4,401.5 1109.8,382.5 1106.1,363.5 1105.9,344.5 1103.0,324.5 1102.9,305.5 1098.0,267.5 1097.1,249.5 1098.9,229.5 1099.1,210.5 1101.9,191.5 1102.9,173.5 1102.0,134.5 1115.0,134.5 1115.0,171.5 1114.1,191.5 1116.1,211.5 1119.0,267.5 1121.0,286.5 1130.2,325.5 1148.7,364.5 1147.3,380.5 1146.0,384.5 1135.3,401.5 1131.6,404.5 1125.5,407.5ZM1328.5,446.5 1325.5,446.3 1320.5,444.1 1316.4,441.5 1314.8,439.5 1308.0,421.5 1299.1,401.5 1298.9,383.5 1294.2,346.5 1293.0,323.5 1293.1,306.5 1297.2,283.5 1298.0,267.5 1298.1,229.5 1305.2,189.5 1308.9,153.5 1309.0,134.5 1354.1,134.5 1354.5,141.5 1359.0,171.5 1367.9,210.5 1369.0,230.5 1368.8,268.5 1364.0,305.5 1358.8,328.5 1358.0,361.5 1359.0,400.5 1358.1,418.5 1357.5,421.5 1356.0,423.5 1341.0,439.5 1335.6,443.5 1328.5,446.5ZM1588.5,387.8 1585.5,387.8 1582.5,386.5 1578.5,383.9 1576.9,381.5 1570.1,345.5 1557.7,308.5 1555.6,304.5 1542.1,286.5 1537.8,267.5 1531.4,249.5 1527.0,191.5 1524.1,171.5 1523.1,134.5 1572.1,134.5 1574.0,152.5 1581.5,194.5 1585.8,227.5 1586.1,285.5 1587.7,288.5 1605.0,304.5 1607.2,307.5 1612.9,325.5 1614.9,343.5 1614.1,361.5 1613.1,364.5 1597.3,382.5 1593.3,385.5 1588.5,387.8ZM1818.5,449.5 1812.5,450.2 1795.5,449.9 1783.5,446.7 1774.7,442.5 1770.6,438.5 1759.8,422.5 1750.3,402.5 1749.9,382.5 1743.9,343.5 1740.9,306.5 1737.1,286.5 1738.0,267.5 1738.1,229.5 1740.0,209.5 1742.0,172.5 1742.0,134.5 1822.1,134.5 1823.1,152.5 1826.9,171.5 1828.1,191.5 1830.9,210.5 1831.1,229.5 1832.9,248.5 1833.9,285.5 1839.9,325.5 1841.0,362.5 1847.7,400.5 1849.8,420.5 1848.9,423.5 1841.6,437.5 1838.6,441.5 1830.5,445.9 1818.5,449.5ZM887.5,423.5 885.5,423.5 883.7,422.5 881.4,418.5 878.2,402.5 879.7,383.5 868.2,363.5 866.8,344.5 862.2,325.5 863.9,288.5 865.8,270.5 866.4,268.5 868.1,266.5 874.5,263.5 879.4,265.5 882.8,268.5 889.0,288.5 890.9,325.5 889.2,365.5 891.0,382.5 897.6,402.5 891.7,419.5 890.4,421.5 887.5,423.5ZM215.5,382.5 214.2,381.5 213.5,379.2 208.2,345.5 207.0,325.5 207.0,308.5 209.4,285.5 213.5,270.2 214.5,268.3 216.5,267.2 218.5,268.4 219.2,270.5 221.1,287.5 224.8,305.5 225.0,323.5 220.8,364.5 217.5,379.9 215.5,382.5ZM668.5,364.5 665.5,364.5 663.7,362.5 662.6,359.5 658.1,344.5 656.1,325.5 656.4,304.5 659.9,288.5 661.3,286.5 663.5,285.5 665.5,286.3 667.7,288.5 678.4,305.5 681.8,324.5 679.8,344.5 671.2,361.5 668.5,364.5ZM732.5,670.5 675.6,670.5 675.9,665.5 681.5,654.5 682.2,651.5 668.4,632.5 668.3,611.5 670.7,596.5 671.5,594.5 673.6,592.5 684.5,587.5 707.5,582.7 719.5,577.9 724.8,573.5 735.8,555.5 742.5,551.4 749.5,549.4 759.5,553.5 761.9,555.5 762.9,557.5 763.0,575.5 761.0,611.5 758.5,615.0 734.2,630.5 731.3,633.5 731.0,650.5 732.9,666.5 732.5,670.5ZM881.5,640.6 876.5,639.7 868.4,636.5 863.8,633.5 863.2,631.5 876.5,613.3 884.6,608.5 887.5,607.5 890.5,607.5 897.5,610.5 901.2,613.5 901.7,616.5 900.2,630.5 898.4,633.5 894.5,636.1 881.5,640.6ZM1131.5,670.5 1071.0,670.5 1071.3,652.5 1073.3,649.5 1089.2,633.5 1096.5,628.6 1104.5,625.6 1113.5,623.4 1117.5,623.5 1125.3,625.5 1136.8,630.5 1139.2,632.5 1140.3,635.5 1141.6,651.5 1132.2,665.5 1131.5,670.5ZM1554.5,670.5 1510.9,670.5 1510.3,651.5 1516.0,635.5 1517.7,632.5 1525.5,627.7 1535.5,624.6 1545.9,627.5 1554.2,632.5 1555.3,635.5 1556.9,651.5 1555.1,670.5 1554.5,670.5ZM1598.5,636.7 1596.5,636.4 1593.0,634.5 1591.6,632.5 1592.1,631.5 1597.5,628.5 1600.5,629.2 1603.9,631.5 1604.4,632.5 1603.0,634.5 1598.5,636.7ZM1819.5,670.5 1703.5,670.6 1701.1,670.5 1701.1,666.5 1715.6,651.5 1721.5,647.8 1729.5,644.8 1741.5,642.2 1790.5,641.9 1799.5,639.7 1808.0,636.5 1818.5,629.7 1821.5,629.0 1824.8,630.5 1827.9,633.5 1831.6,650.5 1830.4,653.5 1820.5,665.5 1819.5,670.5ZM1353.5,670.5 1331.0,670.5 1331.0,654.5 1332.0,651.5 1336.5,648.3 1342.5,646.2 1346.5,647.4 1351.9,650.5 1353.6,652.5 1354.0,654.5 1353.5,670.5ZM466.5,670.5 419.0,670.5 419.0,666.5 432.5,651.6 437.5,648.4 440.5,647.7 446.5,650.7 464.6,664.5 466.6,666.5 466.5,670.5ZM1651.5,670.5 1630.9,670.5 1630.9,666.5 1636.5,663.5 1642.5,662.3 1648.9,664.5 1652.1,666.5 1652.1,670.5 1651.5,670.5Z"/>
<path fill="#FF6000" fill-rule="evenodd" d="M1807.5,427.8 1804.5,428.2 1801.5,427.5 1791.5,422.4 1787.7,418.5 1774.8,401.5 1767.2,383.5 1761.5,365.5 1758.9,344.5 1754.2,325.5 1753.9,306.5 1749.0,286.5 1748.1,266.5 1749.9,230.5 1750.1,211.5 1756.1,189.5 1758.0,171.5 1759.9,134.5 1806.1,134.5 1807.0,152.5 1809.9,172.5 1810.1,192.5 1815.0,286.5 1823.6,360.5 1824.9,382.5 1823.9,402.5 1820.3,419.5 1819.3,421.5 1816.9,423.5 1807.5,427.8ZM1560.5,252.6 1558.5,253.2 1555.5,252.6 1551.5,250.3 1549.0,247.5 1541.2,210.5 1542.0,191.5 1544.9,173.5 1547.2,170.5 1552.5,168.0 1557.5,170.3 1560.3,173.5 1565.0,191.5 1566.8,208.5 1567.9,229.5 1567.1,246.5 1565.5,249.5 1560.5,252.6ZM1327.5,406.7 1324.5,407.2 1321.5,406.2 1317.0,403.5 1315.0,400.5 1313.9,383.5 1308.7,360.5 1305.1,326.5 1305.0,308.5 1305.7,304.5 1311.9,286.5 1313.0,231.5 1313.8,226.5 1318.1,210.5 1326.8,193.5 1330.4,189.5 1335.5,187.2 1340.5,189.4 1343.5,192.4 1351.8,210.5 1354.0,229.5 1354.9,250.5 1351.8,288.5 1348.9,306.5 1343.9,326.5 1341.2,343.5 1339.8,383.5 1334.9,401.5 1332.5,403.9 1327.5,406.7ZM716.5,670.5 687.4,670.5 687.4,666.5 691.4,653.5 691.4,650.5 678.3,613.5 679.8,596.5 681.4,593.5 690.6,588.5 704.5,584.8 722.5,584.7 730.5,586.3 743.8,591.5 746.6,593.5 747.9,596.5 747.9,611.5 746.2,614.5 741.2,617.5 715.5,629.2 711.8,631.5 710.3,633.5 710.2,651.5 716.2,665.5 716.5,670.5ZM1122.5,670.5 1079.0,670.5 1079.4,652.5 1082.1,649.5 1105.5,631.6 1108.5,629.9 1111.5,630.3 1116.4,634.5 1129.2,651.5 1128.7,654.5 1123.8,665.5 1123.5,670.5 1122.5,670.5ZM1805.5,670.5 1724.1,670.5 1724.1,666.5 1726.3,652.5 1728.5,650.2 1733.2,647.5 1741.4,644.5 1750.5,642.4 1776.5,642.2 1791.5,645.8 1797.8,648.5 1802.1,651.5 1803.5,654.5 1805.5,664.5 1805.5,670.5ZM1551.5,670.5 1515.0,670.5 1515.4,652.5 1517.1,650.5 1520.5,648.3 1531.5,644.3 1535.5,644.8 1543.5,647.8 1548.0,650.5 1550.1,653.5 1551.9,666.5 1551.5,670.5ZM457.5,670.5 422.9,670.5 422.9,666.5 430.5,662.8 441.5,660.6 450.5,662.8 456.8,665.5 458.1,666.5 458.1,670.5 457.5,670.5Z"/>
<path fill="#FF3200" fill-rule="evenodd" d="M1782.5,324.8 1781.5,325.2 1778.9,324.5 1776.9,322.5 1772.9,306.5 1763.4,287.5 1761.2,269.5 1761.0,261.5 1761.1,248.5 1764.1,229.5 1770.0,210.5 1778.7,191.5 1781.0,174.5 1782.5,172.5 1783.7,173.5 1784.5,176.0 1789.7,208.5 1794.8,247.5 1795.0,255.5 1793.8,287.5 1788.6,307.5 1783.8,322.5 1782.5,324.8ZM700.5,613.7 699.3,613.5 700.5,613.7ZM1800.5,670.5 1726.3,670.5 1726.3,666.5 1730.2,652.5 1735.5,648.3 1743.5,645.1 1753.5,642.5 1774.5,642.3 1789.5,646.1 1795.5,648.9 1799.0,651.5 1800.2,655.5 1800.5,670.5ZM1547.5,670.5 1518.1,670.5 1518.3,664.5 1520.3,652.5 1524.5,648.9 1531.5,645.9 1535.4,646.5 1541.5,649.5 1545.2,653.5 1547.7,665.5 1547.5,670.5ZM1115.5,670.5 1086.3,670.5 1086.4,665.5 1090.2,652.5 1094.5,648.9 1098.5,647.7 1104.5,650.9 1110.5,657.6 1114.5,657.6 1115.8,663.5 1115.5,670.5ZM449.5,670.5 431.9,670.5 431.9,666.5 437.5,663.5 442.5,662.9 450.1,666.5 450.1,670.5 449.5,670.5ZM703.5,670.5 697.9,670.5 697.9,666.5 700.5,665.2 703.5,666.1 704.1,666.5 704.1,670.5 703.5,670.5Z"/>
<path fill="#FF1000" fill-rule="evenodd" d="M1796.5,670.5 1728.4,670.5 1728.4,666.5 1732.5,653.5 1736.5,649.5 1744.5,645.8 1754.5,642.9 1769.5,642.3 1784.5,646.1 1790.5,648.9 1794.0,651.5 1795.3,654.5 1796.5,663.5 1796.5,670.5ZM1108.5,670.5 1093.9,670.5 1093.9,666.5 1099.5,663.5 1103.5,663.5 1109.1,666.5 1109.1,670.5 1108.5,670.5Z"/>
<rect x="128" y="656" width="88" height="11" fill="#fff"/>
<rect x="478" y="656" width="184.5" height="11" fill="#fff"/>
<rect x="775.6" y="656" width="130.4" height="11" fill="#fff"/>
<rect x="925" y="656" width="166.7" height="11" fill="#fff"/>
<rect x="1205" y="656" width="110.8" height="11" fill="#fff"/>
<rect x="1671" y="656" width="55" height="11" fill="#fff"/>
<path d="M123.8,517.43H1894M123.8,363.86H1894M123.8,210.29H1894" stroke="#AAAAAA" stroke-width="6.8" stroke-linecap="round" stroke-dasharray="3.2 28.66" fill="none"/>
<path d="M233.84,119.35V690M344.48,119.35V690M455.12,119.35V690M565.76,119.35V690M676.40,119.35V690M787.04,119.35V690M897.68,119.35V690M1008.32,119.35V690M1118.96,119.35V690M1229.60,119.35V690M1340.24,119.35V690M1450.88,119.35V690M1561.52,119.35V690M1672.16,119.35V690M1782.80,119.35V690" stroke="#AAAAAA" stroke-width="7" stroke-linecap="round" stroke-dasharray="3.5 28.7" fill="none"/>
</g>
<rect x="123.5" y="133.5" width="1770.5" height="537.5" fill="none" stroke="#000" stroke-width="9"/>
<path d="M123.2,671V686M233.8,671V686M344.5,671V686M455.1,671V686M565.8,671V686M676.4,671V686M787.0,671V686M897.7,671V686M1008.3,671V686M1119.0,671V686M1229.6,671V686M1340.2,671V686M1450.9,671V686M1561.5,671V686M1672.2,671V686M1782.8,671V686M1893.4,671V686M107,671.0H124M107,517.4H124M107,363.9H124M107,210.3H124" stroke="#000" stroke-width="7.5" stroke-linecap="round" fill="none"/>
<text transform="matrix(0.6883 0 0 0.7059 20.24 693.59)" class="t">20</text>
<text transform="matrix(0.6883 0 0 0.6957 20.24 539.34)" class="t">30</text>
<text transform="matrix(0.6740 0 0 0.7059 21.63 386.45)" class="t">40</text>
<text transform="matrix(0.6883 0 0 0.7059 20.24 232.88)" class="t">50</text>
<text transform="matrix(0.6363 0 0 0.6574 170.53 739.39)" class="t">2002</text>
<text transform="matrix(0.6330 0 0 0.6478 391.82 738.76)" class="t">2003</text>
<text transform="matrix(0.6265 0 0 0.6574 613.12 739.39)" class="t">2004</text>
<text transform="matrix(0.6330 0 0 0.6574 834.38 739.39)" class="t">2005</text>
<text transform="matrix(0.6297 0 0 0.6478 1055.67 738.76)" class="t">2006</text>
<text transform="matrix(0.6297 0 0 0.6574 1276.95 739.39)" class="t">2007</text>
<text transform="matrix(0.6330 0 0 0.6478 1498.22 738.76)" class="t">2008</text>
<text transform="matrix(0.6330 0 0 0.6478 1719.50 738.76)" class="t">2009</text>
<text transform="matrix(0.6353 0 0 0.5634 14.73 99.64)" class="t">km</text>
<text transform="matrix(0.5671 0 0 0.7164 479.13 71.28)" class="t">H</text>
<text transform="matrix(0.4581 0 0 0.3824 521.43 80.24)" class="t">2</text>
<text transform="matrix(0.5086 0 0 0.7206 543.37 71.06)" class="t">O</text>
<text transform="matrix(0.7602 0 0 0.6696 622.72 71.07)" class="t">anomaly</text>
<text transform="matrix(0.7442 0 0 0.7283 939.22 67.98)" class="t">(ppmv)</text>
<rect x="225.50" y="803" width="131.50" height="46" fill="#0080F5"/>
<rect x="357.00" y="803" width="130.44" height="46" fill="#0096F5"/>
<rect x="487.44" y="803" width="130.44" height="46" fill="#00AAF5"/>
<rect x="617.88" y="803" width="130.44" height="46" fill="#4BB9FA"/>
<rect x="748.32" y="803" width="130.44" height="46" fill="#73D2FA"/>
<rect x="878.76" y="803" width="130.44" height="46" fill="#96F0FA"/>
<rect x="1009.20" y="803" width="130.44" height="46" fill="#FFE66E"/>
<rect x="1139.64" y="803" width="130.44" height="46" fill="#FFC02D"/>
<rect x="1270.08" y="803" width="130.44" height="46" fill="#FFA000"/>
<rect x="1400.52" y="803" width="130.44" height="46" fill="#FF6000"/>
<rect x="1530.96" y="803" width="130.44" height="46" fill="#FF3200"/>
<rect x="1661.40" y="803" width="130.00" height="46" fill="#FF1000"/>
<rect x="225.50" y="802.9" width="1565.90" height="46.2" fill="none" stroke="#000" stroke-width="7.6"/>
<path d="M357.00,803V849M487.44,803V849M617.88,803V849M748.32,803V849M878.76,803V849M1009.20,803V849M1139.64,803V849M1270.08,803V849M1400.52,803V849M1530.96,803V849M1661.40,803V849" stroke="#000" stroke-width="7.6" fill="none"/>
<text transform="matrix(0.6031 0 0 0.5662 323.88 895.43)" class="t">−1</text>
<text transform="matrix(0.5920 0 0 0.5580 433.04 894.33)" class="t">−0.8</text>
<text transform="matrix(0.5886 0 0 0.5580 563.31 894.33)" class="t">−0.6</text>
<text transform="matrix(0.5852 0 0 0.5662 693.82 894.87)" class="t">−0.4</text>
<text transform="matrix(0.5954 0 0 0.5662 824.02 894.87)" class="t">−0.2</text>
<text transform="matrix(0.5318 0 0 0.5662 995.70 894.87)" class="t">0</text>
<text transform="matrix(0.5788 0 0 0.5662 1102.96 894.87)" class="t">0.2</text>
<text transform="matrix(0.5645 0 0 0.5662 1234.36 894.87)" class="t">0.4</text>
<text transform="matrix(0.5692 0 0 0.5580 1364.74 894.33)" class="t">0.6</text>
<text transform="matrix(0.5739 0 0 0.5580 1495.13 894.33)" class="t">0.8</text>
<text transform="matrix(0.5154 0 0 0.5662 1647.79 895.43)" class="t">1</text>
</svg>
</body></html>
